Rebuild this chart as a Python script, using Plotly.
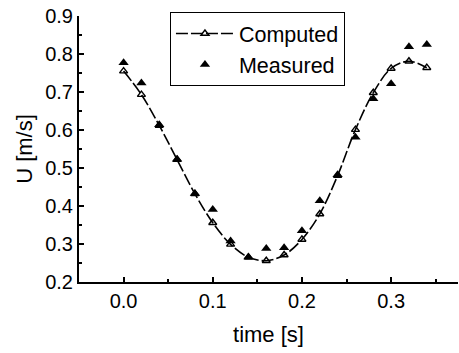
import plotly.graph_objects as go

t = [0.00, 0.02, 0.04, 0.06, 0.08, 0.10, 0.12, 0.14, 0.16, 0.18, 0.20, 0.22, 0.24, 0.26, 0.28, 0.30, 0.32, 0.34]
computed = [0.755, 0.693, 0.612, 0.522, 0.432, 0.356, 0.299, 0.265, 0.256, 0.271, 0.312, 0.379, 0.480, 0.601, 0.698, 0.762, 0.781, 0.764]
measured = [0.777, 0.724, 0.614, 0.523, 0.433, 0.391, 0.308, 0.266, 0.288, 0.290, 0.335, 0.414, 0.482, 0.581, 0.682, 0.722, 0.819, 0.825]

FAM = "Liberation Sans, Arial, sans-serif"

fig = go.Figure()
fig.add_trace(go.Scatter(
    x=t, y=computed, mode="lines+markers", name="Computed",
    line=dict(color="black", width=1.6, dash="12px,3px", shape="spline"),
    marker=dict(symbol="triangle-up-open", size=7, color="black", line=dict(width=1.4)),
))
fig.add_trace(go.Scatter(
    x=t, y=measured, mode="markers", name="Measured",
    marker=dict(symbol="triangle-up", size=9, color="black"),
))

axis_font = dict(family=FAM, size=20, color="black")
fig.update_layout(
    width=459, height=353,
    margin=dict(l=79, r=1, t=16, b=71),
    paper_bgcolor="white", plot_bgcolor="white",
    showlegend=True,
    legend=dict(x=0.24, y=1.015, xanchor="left", yanchor="top",
                bordercolor="black", borderwidth=1, bgcolor="white",
                font=dict(family=FAM, size=21.5, color="black"),
                tracegroupgap=0, itemwidth=58),
    xaxis=dict(range=[-0.05, 0.375], tickvals=[0.0, 0.1, 0.2, 0.3], ticktext=["0.0", "0.1", "0.2", "0.3"],
               showgrid=False, zeroline=False, showline=True, linecolor="black", linewidth=2,
               ticks="inside", ticklen=5, tickcolor="black", tickwidth=1.5,
               minor=dict(dtick=0.05, tick0=0, ticks="inside", ticklen=3, tickcolor="black"),
               tickfont=axis_font,
               title=dict(text="time [s]", font=dict(family=FAM, size=22, color="black"), standoff=16)),
    yaxis=dict(range=[0.2, 0.9], dtick=0.1, tickformat=".1f",
               showgrid=False, zeroline=False, showline=True, linecolor="black", linewidth=2,
               ticks="inside", ticklen=5, tickcolor="black", tickwidth=1.5,
               minor=dict(dtick=0.05, ticks="inside", ticklen=3, tickcolor="black"),
               tickfont=axis_font,
               title=dict(text="U [m/s]", font=dict(family=FAM, size=22, color="black"), standoff=6)),
)
fig.write_html("out.html")
